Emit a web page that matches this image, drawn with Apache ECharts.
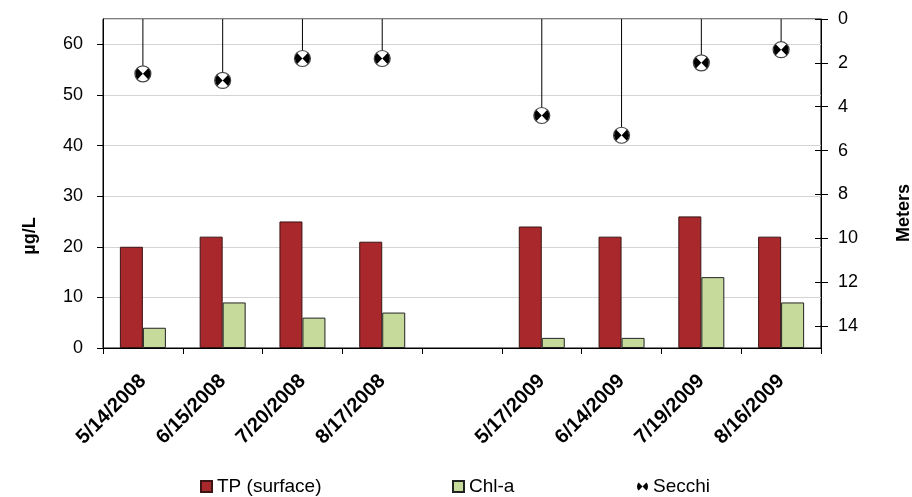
<!DOCTYPE html>
<html><head><meta charset="utf-8">
<script src="https://cdn.jsdelivr.net/npm/echarts@6/dist/echarts.min.js"></script>
<style>html,body{margin:0;padding:0;background:#fff}#c{width:912px;height:497px}</style>
</head><body><div id="c"></div>
<script>
const categories = ['5/14/2008','6/15/2008','7/20/2008','8/17/2008','','5/17/2009','6/14/2009','7/19/2009','8/16/2009'];
const tpSurface = [20, 22, 25, 21, null, 24, 22, 26, 22];
const chlA = [4, 9, 6, 7, null, 2, 2, 14, 9];
const secchi = [2.5, 2.8, 1.8, 1.8, null, 4.4, 5.3, 2.0, 1.4];
const leftAxis = {min: 0, max: 65, interval: 10, name: 'µg/L'};
const rightAxis = {min: 0, max: 15, interval: 2, name: 'Meters'};

const bowTie = 'path://M0,0 L-7.07,-7.07 A10,10 0 0 0 -7.07,7.07 Z M0,0 L7.07,-7.07 A10,10 0 0 1 7.07,7.07 Z';
const FONT = 'Arial, "Liberation Sans", sans-serif';

const chart = echarts.init(document.getElementById('c'), null, {renderer: 'canvas'});
const legendText = {fontSize: 19, color: '#000', fontFamily: FONT};
chart.setOption({
  animation: false,
  backgroundColor: '#fff',
  grid: {left: 103, right: 91, top: 19, bottom: 149, show: true, borderColor: '#000', borderWidth: 1, backgroundColor: 'transparent'},
  xAxis: [{
    type: 'category', data: categories,
    axisLine: {lineStyle: {color: '#000', width: 1}},
    axisTick: {show: true, length: 6, lineStyle: {color: '#000'}},
    axisLabel: {rotate: 45, margin: 30, color: '#000', fontSize: 20, fontWeight: 'bold', fontFamily: FONT, interval: 0}
  }, {
    type: 'category', data: categories, show: false
  }],
  yAxis: [{
    type: 'value', min: leftAxis.min, max: leftAxis.max, interval: leftAxis.interval,
    axisLine: {show: true, lineStyle: {color: '#000'}},
    axisTick: {show: true, length: 6, lineStyle: {color: '#000'}},
    axisLabel: {color: '#000', fontSize: 18, fontFamily: FONT, margin: 20, showMaxLabel: false},
    splitLine: {show: true, lineStyle: {color: '#d4d4d4', width: 1}}
  }, {
    type: 'value', position: 'right', inverse: true, min: rightAxis.min, max: rightAxis.max, interval: rightAxis.interval,
    axisLine: {show: true, lineStyle: {color: '#000'}},
    axisTick: {show: true, length: 7, lineStyle: {color: '#000'}},
    axisLabel: {color: '#000', fontSize: 18, fontFamily: FONT, margin: 17, showMaxLabel: false},
    splitLine: {show: false}
  }, {
    type: 'value', position: 'right', inverse: true, min: rightAxis.min, max: rightAxis.max, interval: rightAxis.interval,
    axisLine: {show: false},
    axisTick: {show: true, inside: true, length: 6, lineStyle: {color: '#000'}},
    axisLabel: {show: false, showMaxLabel: false},
    splitLine: {show: false}
  }],
  legend: [
    {data: [{name: 'TP (surface)', icon: 'rect'}], left: 200, top: 477, padding: 0, itemWidth: 11, itemHeight: 11, itemGap: 6, textStyle: legendText},
    {data: [{name: 'Chl-a', icon: 'rect'}], left: 452, top: 477, padding: 0, itemWidth: 11, itemHeight: 11, textStyle: legendText},
    {data: [{name: 'Secchi', icon: bowTie}], left: 637, top: 477, padding: 0, itemWidth: 11, itemHeight: 8, textStyle: legendText}
  ],
  graphic: [
    {type: 'text', x: 30, y: 236, rotation: Math.PI / 2,
     style: {text: leftAxis.name, fontSize: 18, fontWeight: 'bold', fontFamily: FONT, fill: '#000', align: 'center', verticalAlign: 'middle'}},
    {type: 'text', x: 904, y: 213, rotation: Math.PI / 2,
     style: {text: rightAxis.name, fontSize: 18, fontWeight: 'bold', fontFamily: FONT, fill: '#000', align: 'center', verticalAlign: 'middle'}}
  ],
  series: [
    {name: 'TP (surface)', type: 'bar', data: tpSurface, xAxisIndex: 0, yAxisIndex: 0,
     barWidth: 23, barGap: '0%',
     itemStyle: {color: '#a8282c', borderColor: '#3b1414', borderWidth: 1}},
    {name: 'Chl-a', type: 'bar', data: chlA, xAxisIndex: 0, yAxisIndex: 0,
     barWidth: 23, barGap: '0%',
     itemStyle: {color: '#c6da9c', borderColor: '#222', borderWidth: 1}},
    {name: 'SecchiLine', type: 'bar', data: secchi, xAxisIndex: 1, yAxisIndex: 1,
     barWidth: 1, itemStyle: {color: '#000'}, z: 3},
    {name: 'SecchiDisk', type: 'scatter', data: secchi, xAxisIndex: 0, yAxisIndex: 1,
     symbol: 'circle', symbolSize: 16,
     itemStyle: {color: '#fff', borderColor: '#444', borderWidth: 1.2, opacity: 1}, z: 4},
    {name: 'Secchi', type: 'scatter', data: secchi, xAxisIndex: 0, yAxisIndex: 1,
     symbol: bowTie, symbolSize: [15, 11],
     itemStyle: {color: '#000', opacity: 1}, z: 5}
  ]
});
</script>
</body></html>
